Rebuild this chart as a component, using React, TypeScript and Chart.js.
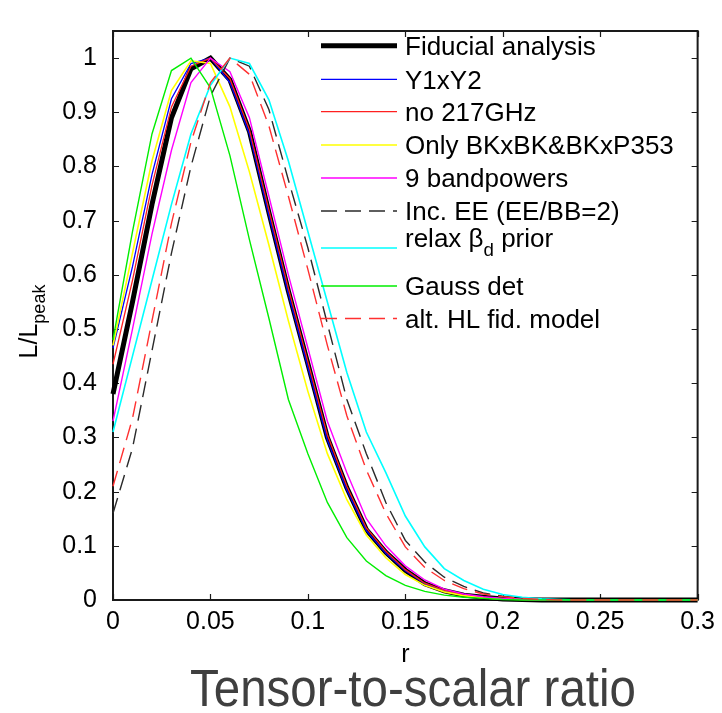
import React, { useEffect, useRef } from "react";
import { Chart, registerables } from "chart.js";

Chart.register(...registerables);

// r grid (x values)
const R = [
  0, 0.01, 0.02, 0.03, 0.04, 0.05, 0.06, 0.07, 0.08, 0.09, 0.1,
  0.11, 0.12, 0.13, 0.14, 0.15, 0.16, 0.17, 0.18, 0.19, 0.2,
  0.21, 0.22, 0.23, 0.24, 0.25, 0.26, 0.27, 0.28, 0.29, 0.3,
];

const X_TICKS = [0, 0.05, 0.1, 0.15, 0.2, 0.25, 0.3];
const X_TICK_LABELS = ["0", "0.05", "0.1", "0.15", "0.2", "0.25", "0.3"];
const Y_TICKS = [0, 0.1, 0.2, 0.3, 0.4, 0.5, 0.6, 0.7, 0.8, 0.9, 1];
const Y_TICK_LABELS = ["0", "0.1", "0.2", "0.3", "0.4", "0.5", "0.6", "0.7", "0.8", "0.9", "1"];

const SERIES_NAMES = [
  "Fiducial analysis",
  "Y1xY2",
  "no 217GHz",
  "Only BKxBK&BKxP353",
  "9 bandpowers",
  "Inc. EE (EE/BB=2)",
  "relax β_d prior",
  "Gauss det",
  "alt. HL fid. model",
];

const FIDUCIAL = [0.38, 0.55, 0.73, 0.89, 0.98, 1.0, 0.96, 0.865, 0.715, 0.57, 0.436, 0.3, 0.207, 0.13, 0.088, 0.055, 0.03, 0.017, 0.009, 0.005, 0.002, 0.001, 0, 0, 0, 0, 0, 0, 0, 0, 0];
const Y1XY2 = [0.465, 0.615, 0.785, 0.925, 0.99, 1.0, 0.955, 0.86, 0.71, 0.565, 0.43, 0.295, 0.203, 0.128, 0.086, 0.054, 0.03, 0.017, 0.009, 0.005, 0.002, 0.001, 0, 0, 0, 0, 0, 0, 0, 0, 0];
const NO217 = [0.435, 0.59, 0.765, 0.91, 0.985, 1.0, 0.962, 0.868, 0.72, 0.575, 0.44, 0.305, 0.21, 0.133, 0.09, 0.056, 0.031, 0.018, 0.009, 0.005, 0.002, 0.001, 0, 0, 0, 0, 0, 0, 0, 0, 0];
const ONLY_BK = [0.47, 0.64, 0.81, 0.94, 0.995, 0.99, 0.91, 0.79, 0.655, 0.515, 0.385, 0.27, 0.185, 0.12, 0.078, 0.047, 0.027, 0.015, 0.008, 0.004, 0.002, 0.001, 0, 0, 0, 0, 0, 0, 0, 0, 0];
const BAND9 = [0.33, 0.5, 0.675, 0.83, 0.955, 1.0, 0.975, 0.89, 0.745, 0.6, 0.465, 0.33, 0.235, 0.15, 0.1, 0.063, 0.037, 0.02, 0.011, 0.006, 0.003, 0.001, 0, 0, 0, 0, 0, 0, 0, 0, 0];
const INC_EE = [0.16, 0.28, 0.46, 0.64, 0.8, 0.93, 1.0, 0.985, 0.905, 0.775, 0.65, 0.51, 0.37, 0.27, 0.18, 0.11, 0.07, 0.042, 0.025, 0.013, 0.007, 0.003, 0.001, 0, 0, 0, 0, 0, 0, 0, 0];
const RELAX_BD = [0.31, 0.45, 0.59, 0.73, 0.86, 0.95, 1.0, 0.99, 0.923, 0.81, 0.68, 0.55, 0.42, 0.31, 0.235, 0.155, 0.098, 0.058, 0.036, 0.02, 0.01, 0.005, 0.002, 0.001, 0, 0, 0, 0, 0, 0, 0];
const GAUSS = [0.48, 0.68, 0.86, 0.977, 1.0, 0.945, 0.82, 0.665, 0.52, 0.37, 0.27, 0.18, 0.115, 0.072, 0.045, 0.027, 0.016, 0.009, 0.005, 0.003, 0.001, 0, 0, 0, 0, 0, 0, 0, 0, 0, 0];
const ALT_HL = [0.21, 0.335, 0.515, 0.695, 0.845, 0.955, 1.0, 0.97, 0.875, 0.745, 0.61, 0.47, 0.34, 0.24, 0.16, 0.098, 0.06, 0.036, 0.021, 0.011, 0.006, 0.003, 0.001, 0, 0, 0, 0, 0, 0, 0, 0];

const FONT = '"Liberation Sans", Arial, Helvetica, sans-serif';

function drawRich(ctx: CanvasRenderingContext2D, text: string, x: number, y: number, size: number) {
  // supports "_c" single-character subscript
  const parts: { t: string; sub: boolean }[] = [];
  let buf = "";
  for (let i = 0; i < text.length; i++) {
    if (text[i] === "_" && i + 1 < text.length) {
      if (buf) parts.push({ t: buf, sub: false });
      buf = "";
      parts.push({ t: text[i + 1], sub: true });
      i++;
    } else buf += text[i];
  }
  if (buf) parts.push({ t: buf, sub: false });
  let cx = x;
  for (const p of parts) {
    const s = p.sub ? size * 0.72 : size;
    ctx.font = `${s}px ${FONT}`;
    ctx.fillText(p.t, cx, p.sub ? y + size * 0.32 : y);
    cx += ctx.measureText(p.t).width;
  }
}

export default function App() {
  const ref = useRef<HTMLCanvasElement | null>(null);

  useEffect(() => {
    document.body.style.margin = "0";
    const canvas = ref.current;
    if (!canvas) return;

    const series = [
      { data: FIDUCIAL, color: "#000000", width: 5, dash: [] as number[] },
      { data: Y1XY2, color: "#0000ff", width: 1.3, dash: [] },
      { data: NO217, color: "#ff2020", width: 1.3, dash: [] },
      { data: ONLY_BK, color: "#ffff00", width: 1.6, dash: [] },
      { data: BAND9, color: "#ff00ff", width: 1.4, dash: [] },
      { data: INC_EE, color: "#2a2a2a", width: 1.4, dash: [16, 8] },
      { data: RELAX_BD, color: "#00ffff", width: 1.6, dash: [] },
      { data: GAUSS, color: "#00ee00", width: 1.4, dash: [] },
      { data: ALT_HL, color: "#ff3030", width: 1.4, dash: [16, 8] },
    ];

    const datasets = series.map((s, i) => ({
      label: SERIES_NAMES[i],
      data: R.map((r, j) => ({ x: r, y: s.data[j] })),
      borderColor: s.color,
      backgroundColor: s.color,
      borderWidth: s.width,
      borderDash: s.dash,
      pointRadius: 0,
      tension: 0,
      fill: false,
      order: 20 - i,
      clip: false as any,
    }));

    const framePlugin = {
      id: "frame",
      beforeDatasetsDraw(chart: any) {
        const { ctx, chartArea } = chart;
        const { left, right, top, bottom } = chartArea;
        const xs = chart.scales.x;
        const ys = chart.scales.y;
        ctx.save();
        ctx.strokeStyle = "#1a1a1a";
        ctx.lineWidth = 2;
        ctx.strokeRect(left, top, right - left, bottom - top);
        ctx.lineWidth = 1.2;
        const T = 6;
        ctx.beginPath();
        X_TICKS.forEach((v) => {
          const px = Math.round(xs.getPixelForValue(v)) + 0.5;
          ctx.moveTo(px, bottom);
          ctx.lineTo(px, bottom - T);
          ctx.moveTo(px, top);
          ctx.lineTo(px, top + T);
        });
        Y_TICKS.forEach((v) => {
          const py = Math.round(ys.getPixelForValue(v)) + 0.5;
          ctx.moveTo(left, py);
          ctx.lineTo(left + T, py);
          ctx.moveTo(right, py);
          ctx.lineTo(right - T, py);
        });
        ctx.stroke();
        ctx.restore();
      },
      afterDraw(chart: any) {
        const { ctx, chartArea } = chart;
        ctx.save();
        // Legend
        const rowsY = [45.7, 79.3, 111.7, 145, 178, 211, 248, 286, 318.5];
        const textDy = [0, 0, 0, 0, 0, 0, -10, 0, 0];
        const x0 = 321, x1 = 397, tx = 405, size = 26;
        chart.data.datasets.forEach((ds: any, i: number) => {
          const y = rowsY[i];
          ctx.strokeStyle = ds.borderColor;
          ctx.lineWidth = ds.borderWidth;
          ctx.setLineDash(ds.borderDash || []);
          ctx.beginPath();
          ctx.moveTo(x0, y);
          ctx.lineTo(x1, y);
          ctx.stroke();
          ctx.setLineDash([]);
          ctx.fillStyle = "#000";
          ctx.textAlign = "left";
          ctx.textBaseline = "alphabetic";
          drawRich(ctx, ds.label, tx, y + textDy[i] + size * 0.36, size);
        });

        // Y axis title L/L_peak
        ctx.save();
        ctx.translate(28, (chartArea.top + chartArea.bottom) / 2 + 6);
        ctx.rotate(-Math.PI / 2);
        ctx.font = `25px ${FONT}`;
        const w1 = ctx.measureText("L/L").width;
        ctx.font = `18px ${FONT}`;
        const w2 = ctx.measureText("peak").width;
        const start = -(w1 + w2) / 2;
        ctx.fillStyle = "#000";
        ctx.textAlign = "left";
        ctx.font = `25px ${FONT}`;
        ctx.fillText("L/L", start, 9);
        ctx.font = `18px ${FONT}`;
        ctx.fillText("peak", start + w1, 17);
        ctx.restore();

        // x axis title r
        ctx.fillStyle = "#000";
        ctx.textAlign = "center";
        ctx.font = `25px ${FONT}`;
        ctx.fillText("r", (chartArea.left + chartArea.right) / 2, 662);

        // big caption
        ctx.save();
        ctx.fillStyle = "#3f3f3f";
        ctx.font = `51px ${FONT}`;
        ctx.textAlign = "left";
        const cap = "Tensor-to-scalar ratio";
        const cw = ctx.measureText(cap).width;
        const target = 446;
        ctx.translate(190, 706);
        ctx.scale(target / cw, 1);
        ctx.fillText(cap, 0, 0);
        ctx.restore();

        ctx.restore();
      },
    };

    const chart = new Chart(canvas, {
      type: "line",
      data: { datasets: datasets as any },
      options: {
        animation: false,
        responsive: false,
        devicePixelRatio: 1,
        layout: { padding: { top: 13, right: 20, left: 0, bottom: 0 } },
        plugins: { legend: { display: false }, tooltip: { enabled: false }, title: { display: false } },
        scales: {
          x: {
            type: "linear",
            min: 0,
            max: 0.3,
            afterBuildTicks: (s: any) => {
              s.ticks = X_TICKS.map((v) => ({ value: v }));
            },
            afterFit: (s: any) => {
              s.height = 113;
            },
            ticks: {
              autoSkip: false,
              maxRotation: 0,
              padding: 7,
              color: "#000",
              font: { size: 25, family: FONT },
              callback: (v: any) => {
                const i = X_TICKS.findIndex((t) => Math.abs(t - Number(v)) < 1e-9);
                return i >= 0 ? X_TICK_LABELS[i] : "";
              },
            },
            grid: { display: false, drawTicks: false },
            border: { display: false },
          },
          y: {
            type: "linear",
            min: 0,
            max: 1.05,
            afterBuildTicks: (s: any) => {
              s.ticks = Y_TICKS.map((v) => ({ value: v }));
            },
            afterFit: (s: any) => {
              s.width = 113;
            },
            ticks: {
              autoSkip: false,
              padding: 16,
              color: "#000",
              font: { size: 25, family: FONT },
              callback: (v: any) => {
                const i = Y_TICKS.findIndex((t) => Math.abs(t - Number(v)) < 1e-9);
                return i >= 0 ? Y_TICK_LABELS[i] : "";
              },
            },
            grid: { display: false, drawTicks: false },
            border: { display: false },
          },
        },
      },
      plugins: [framePlugin],
    });

    return () => chart.destroy();
  }, []);

  return (
    <canvas
      ref={ref}
      width={722}
      height={713}
      style={{ display: "block", width: "722px", height: "713px" }}
    />
  );
}
